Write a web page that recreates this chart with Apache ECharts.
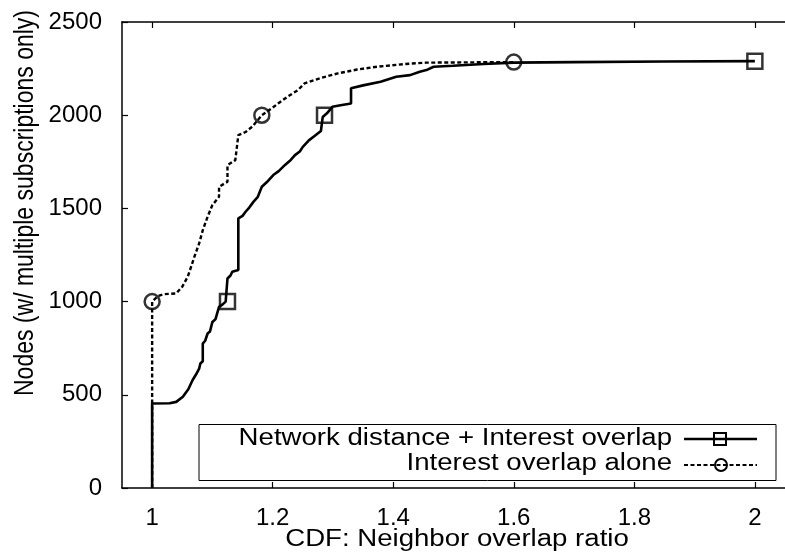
<!DOCTYPE html>
<html>
<head>
<meta charset="utf-8">
<script src="https://cdn.jsdelivr.net/npm/echarts@6/dist/echarts.min.js"></script>
<style>
html,body{margin:0;padding:0;background:#fff;}
#chart{width:785px;height:557px;}
</style>
</head>
<body>
<div id="chart"></div>
<script>
// ---- data ----
var seriesNames = ['Network distance + Interest overlap', 'Interest overlap alone'];
var xTitle = 'CDF: Neighbor overlap ratio';
var yTitle = 'Nodes (w/ multiple subscriptions only)';
var xTicks = [1, 1.2, 1.4, 1.6, 1.8, 2];
var yTicks = [0, 500, 1000, 1500, 2000, 2500];

var netX = [1.0, 1.0, 1.029, 1.04, 1.051, 1.06, 1.067, 1.073, 1.078, 1.08, 1.084, 1.084, 1.088, 1.092, 1.096, 1.1, 1.105, 1.111, 1.117, 1.122, 1.125, 1.125, 1.13, 1.133, 1.143, 1.143, 1.15, 1.155, 1.16, 1.168, 1.175, 1.182, 1.19, 1.201, 1.21, 1.22, 1.23, 1.237, 1.245, 1.25, 1.26, 1.27, 1.28, 1.283, 1.29, 1.299, 1.315, 1.33, 1.33, 1.35, 1.379, 1.405, 1.428, 1.444, 1.455, 1.467, 1.499, 1.55, 1.6, 1.7, 1.85, 2.0];
var netY = [0, 453, 455, 462, 490, 530, 578, 610, 640, 668, 680, 775, 790, 829, 840, 891, 905, 972, 985, 1000, 1010, 1124, 1140, 1160, 1169, 1446, 1460, 1482, 1500, 1535, 1560, 1616, 1640, 1679, 1700, 1732, 1760, 1786, 1805, 1830, 1865, 1890, 1915, 1990, 2010, 2045, 2055, 2063, 2144, 2160, 2179, 2206, 2215, 2233, 2242, 2260, 2265, 2275, 2282, 2285, 2288, 2290];

var intX = [1.0, 1.0, 1.01, 1.02, 1.04, 1.05, 1.059, 1.065, 1.07, 1.078, 1.084, 1.092, 1.1, 1.111, 1.111, 1.125, 1.125, 1.138, 1.14, 1.143, 1.155, 1.166, 1.182, 1.198, 1.209, 1.225, 1.242, 1.253, 1.28, 1.308, 1.34, 1.373, 1.42, 1.455, 1.6];
var intY = [0, 1000, 1030, 1040, 1044, 1080, 1133, 1190, 1240, 1312, 1383, 1455, 1518, 1562, 1616, 1643, 1732, 1759, 1813, 1893, 1910, 1938, 2000, 2036, 2063, 2100, 2135, 2171, 2200, 2224, 2245, 2260, 2275, 2282, 2285];

var netMarkX = [1.125, 1.286, 2.0];
var netMarkY = [1000, 2000, 2290];
var intMarkX = [1.0, 1.182, 1.6];
var intMarkY = [1000, 2000, 2285];

function pairs(xs, ys){ return xs.map(function(x,i){ return [x, ys[i]]; }); }

var FONT = '"Liberation Sans", Arial, Helvetica, sans-serif';
var chart = echarts.init(document.getElementById('chart'), null, {renderer:'canvas'});

var axisLineStyle = {color:'#000', width:1.5};
var tickStyle = {color:'#000', width:1.2};
var SX = 1.2; // horizontal stretch of the reference's text
var option = {
  animation:false,
  backgroundColor:'#fff',
  grid:{left:122, top:22, width:671, height:466, containLabel:false},
  xAxis:[{
    type:'value', min:0.95, max:2.05, position:'bottom',
    axisLine:{show:true, onZero:false, lineStyle:axisLineStyle},
    axisTick:{show:true, inside:true, length:6, lineStyle:tickStyle, customValues:xTicks},
    axisLabel:{show:true, customValues:xTicks, fontSize:24, color:'#000', fontFamily:FONT, margin:18,
      formatter:function(v){ return String(Math.round(v*10)/10); }},
    splitLine:{show:false}
  },{
    type:'value', min:0.95, max:2.05, position:'top',
    axisLine:{show:true, onZero:false, lineStyle:axisLineStyle},
    axisTick:{show:true, inside:true, length:6, lineStyle:tickStyle, customValues:xTicks},
    axisLabel:{show:false},
    splitLine:{show:false}
  }],
  yAxis:[{
    type:'value', min:0, max:2500, interval:500, position:'left',
    axisLine:{show:true, onZero:false, lineStyle:axisLineStyle},
    axisTick:{show:true, inside:true, length:6, lineStyle:tickStyle, customValues:yTicks},
    axisLabel:{show:true, fontSize:24, color:'#000', fontFamily:FONT, margin:20,
      formatter:function(v){ return String(v); }},
    splitLine:{show:false}
  }],
  series:[
    {name:seriesNames[0], type:'line', xAxisIndex:0, yAxisIndex:0, data:pairs(netX, netY),
      showSymbol:false, symbol:'none', lineStyle:{color:'#000', width:2.6}, z:3},
    {name:seriesNames[1], type:'line', xAxisIndex:0, yAxisIndex:0, data:pairs(intX, intY),
      showSymbol:false, symbol:'none', lineStyle:{color:'#000', width:2.4, type:[4,2.5]}, z:2},
    {name:seriesNames[0]+' marks', type:'scatter', data:pairs(netMarkX, netMarkY), symbol:'rect', symbolSize:15,
      itemStyle:{color:'rgba(0,0,0,0)', borderColor:'#000', borderWidth:2.5}, z:4},
    {name:seriesNames[1]+' marks', type:'scatter', data:pairs(intMarkX, intMarkY), symbol:'circle', symbolSize:15,
      itemStyle:{color:'rgba(0,0,0,0)', borderColor:'#000', borderWidth:2.5}, z:4}
  ],
  graphic:[
    {type:'text', x:457, y:540, scaleX:SX, style:{text:xTitle, font:'23px '+FONT, fill:'#000', textAlign:'center', textVerticalAlign:'middle'}},
    {type:'text', x:25, y:203, rotation:Math.PI/2, scaleY:SX, style:{text:yTitle, font:'23px '+FONT, fill:'#000', textAlign:'center', textVerticalAlign:'middle'}},
    {type:'rect', shape:{x:199, y:424.5, width:577, height:56}, style:{fill:'#fff', stroke:'#000', lineWidth:1}, z:10},
    {type:'text', x:672, y:439, scaleX:SX, style:{text:seriesNames[0], font:'23px '+FONT, fill:'#000', textAlign:'right', textVerticalAlign:'middle'}, z:11},
    {type:'text', x:672, y:464, scaleX:SX, style:{text:seriesNames[1], font:'23px '+FONT, fill:'#000', textAlign:'right', textVerticalAlign:'middle'}, z:11},
    {type:'line', shape:{x1:684, y1:439, x2:757, y2:439}, style:{stroke:'#000', lineWidth:2.6}, z:11},
    {type:'rect', shape:{x:714, y:433, width:12, height:12}, style:{fill:'rgba(0,0,0,0)', stroke:'#000', lineWidth:2}, z:12},
    {type:'line', shape:{x1:684, y1:465, x2:757, y2:465}, style:{stroke:'#000', lineWidth:2.2, lineDash:[4,2.5]}, z:11},
    {type:'circle', shape:{cx:721, cy:465, r:6}, style:{fill:'rgba(0,0,0,0)', stroke:'#000', lineWidth:2}, z:12}
  ]
};
chart.setOption(option);
</script>
</body>
</html>
